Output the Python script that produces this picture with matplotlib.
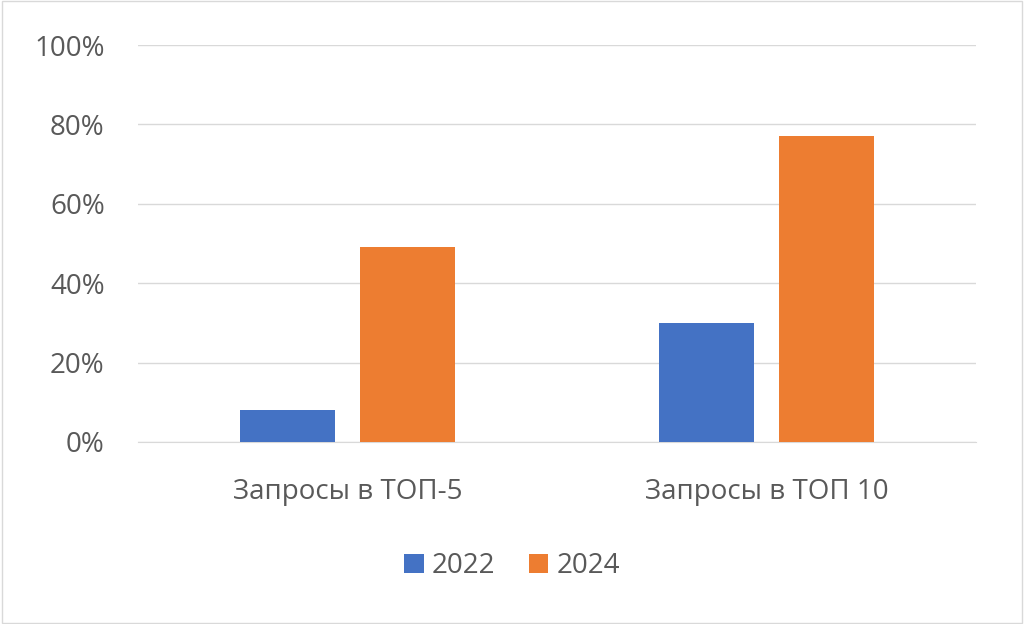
import matplotlib.pyplot as plt
import numpy as np
from matplotlib.patches import Rectangle

categories = ["Запросы в ТОП-5", "Запросы в ТОП 10"]
years = ["2022", "2024"]
values_2022 = [8, 30]
values_2024 = [49, 77]
colors = ["#4472C4", "#ED7D31"]

plt.rcParams['font.family'] = ['Open Sans', 'DejaVu Sans']

fig = plt.figure(figsize=(10.24, 6.24), dpi=100)
ax = fig.add_axes([138 / 1024, 1 - 442 / 624, 838 / 1024, 397 / 624])

x = np.arange(len(categories))
w = 0.225
off = 0.143
ax.bar(x - off, values_2022, w, color=colors[0], label=years[0], zorder=3)
ax.bar(x + off, values_2024, w, color=colors[1], label=years[1], zorder=3)

ax.set_xlim(-0.5, 1.5)
ax.set_ylim(0, 100)
ax.set_yticks(range(0, 101, 20))
ax.set_yticklabels([f"{v}%" for v in range(0, 101, 20)])
ax.set_xticks(x)
ax.set_xticklabels(categories)
ax.grid(axis='y', color='#D9D9D9', linewidth=1, zorder=0)
for s in ['top', 'right', 'left']:
    ax.spines[s].set_visible(False)
ax.spines['bottom'].set_color('#D9D9D9')
ax.tick_params(axis='both', length=0, labelsize=20, colors='#595959')
ax.tick_params(axis='x', pad=26)
ax.tick_params(axis='y', pad=24)

fig.legend(loc='center', bbox_to_anchor=(0.5, 1 - 566 / 624), ncol=2, frameon=False,
           fontsize=20, labelcolor='#595959', handlelength=0.7, handleheight=0.7,
           columnspacing=1.2, handletextpad=0.3)

fig.patches.append(Rectangle((0.002, 0.002), 0.996, 0.996, transform=fig.transFigure,
                             fill=False, edgecolor='#D9D9D9', linewidth=1))

fig.savefig("out.png", dpi=100)
